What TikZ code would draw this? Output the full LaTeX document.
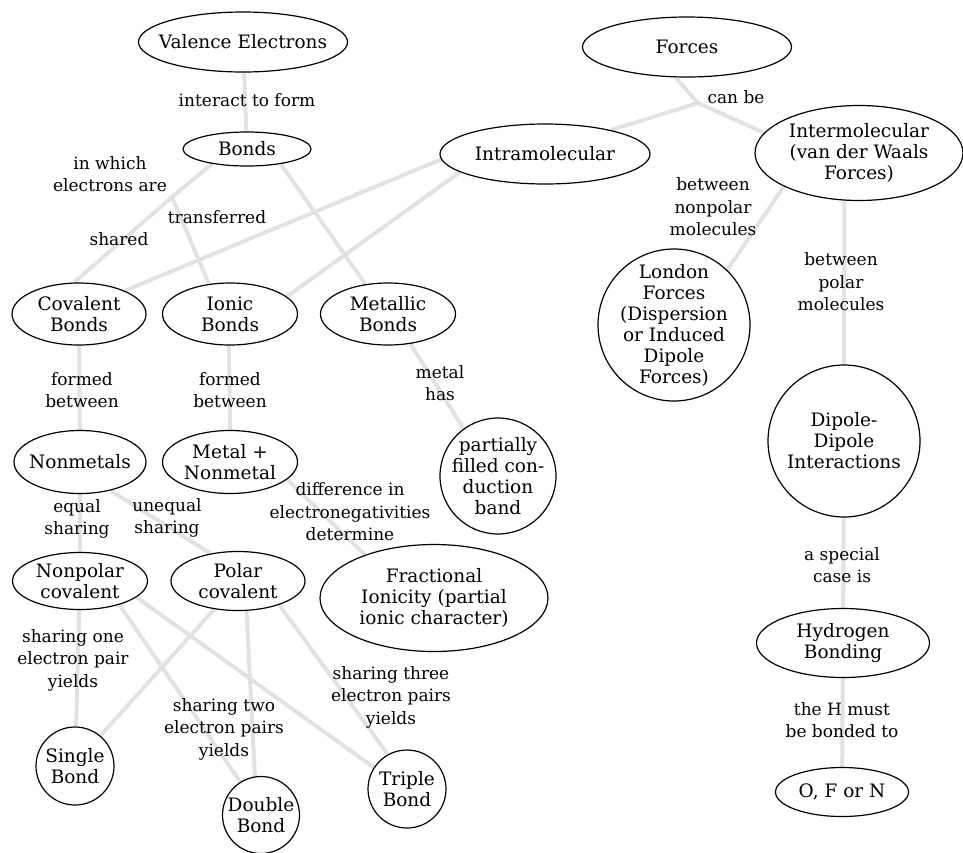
\documentclass[tikz,border=0pt]{standalone}
\usepackage{fontspec}
\setmainfont{DejaVu Serif}
\usetikzlibrary{shapes.geometric,backgrounds}
\definecolor{lineg}{RGB}{226,226,226}
\begin{document}
\begin{tikzpicture}[x=1pt,y=-1pt,
  every node/.style={align=center, inner sep=0pt},
  txt/.style={font=\fontsize{18.5}{21}\selectfont},
  lbl/.style={font=\fontsize{17}{22.5}\selectfont},
  E/.style n args={3}{ellipse, draw, fill=white, line width=1.2pt,
     minimum width=#1, minimum height=#2, label={[txt]center:{#3}}},
  C/.style n args={2}{circle, draw, fill=white, line width=1.2pt,
     minimum size=#1, label={[txt]center:{#2}}},
  conn/.style={draw=lineg, line width=4pt}]
\useasboundingbox (0,0) rectangle (963,852);

% concept nodes
\node[E={209}{60}{Valence Electrons}] (ve) at (243,42) {};
\node[E={128}{34}{Bonds}] (bonds) at (247,149) {};
\node[E={209}{60}{Forces}] (forces) at (687,47) {};
\node[E={210}{60}{Intramolecular}] (intra) at (545,154) {};
\node[E={208}{95}{Intermolecular\\(van der Waals\\Forces)}] (inter) at (859,153) {};
\node[C={152}{London\\Forces\\(Dispersion\\or Induced\\Dipole\\Forces)}] (london) at (674,325) {};
\node[C={152}{Dipole-\\Dipole\\Interactions}] (dipole) at (844,441) {};
\node[E={173}{69}{Hydrogen\\Bonding}] (hb) at (843,643) {};
\node[E={133}{49}{O, F or N}] (ofn) at (842,792) {};
\node[E={134}{62}{Covalent\\Bonds}] (cov) at (79,314) {};
\node[E={135}{62}{Ionic\\Bonds}] (ion) at (230,314) {};
\node[E={135}{62}{Metallic\\Bonds}] (met) at (388,314) {};
\node[E={132}{63}{Nonmetals}] (nonm) at (80,462) {};
\node[E={135}{63}{Metal +\\Nonmetal}] (mn) at (230,462) {};
\node[C={116}{partially\\filled con-\\duction\\band}] (pfb) at (498,476) {};
\node[E={135}{57}{Nonpolar\\covalent}] (np) at (80,581) {};
\node[E={134}{59}{Polar\\covalent}] (pol) at (238,581) {};
\node[E={228}{107}{Fractional\\Ionicity (partial\\ionic character)}] (fi) at (434,598) {};
\node[C={78}{Single\\Bond}] (sb) at (75,766) {};
\node[C={77}{Double\\Bond}] (db) at (261,815) {};
\node[C={78}{Triple\\Bond}] (tb) at (407,789) {};

% junctions
\coordinate (j1) at (172,197);
\coordinate (j2) at (698,103);

% connectors
\begin{scope}[on background layer]
\draw[conn] (ve) -- (bonds);
\draw[conn] (bonds.203) -- (j1) -- (cov.99);
\draw[conn] (j1) -- (ion.125);
\draw[conn] (bonds.336) -- (met.127);
\draw[conn] (intra.183) -- (cov.27);
\draw[conn] (intra.192) -- (ion.17);
\draw[conn] (forces.249) -- (j2) -- (intra.20);
\draw[conn] (j2) -- (inter.168);
\draw[conn] (inter.204) -- (london.46);
\draw[conn] (inter.253) -- (dipole.north);
\draw[conn] (dipole) -- (hb);
\draw[conn] (hb) -- (ofn);
\draw[conn] (cov) -- (nonm);
\draw[conn] (ion.268) -- (mn.272);
\draw[conn] (met.307) -- (pfb.126);
\draw[conn] (nonm) -- (np);
\draw[conn] (nonm.317) -- (pol.135);
\draw[conn] (mn.343) -- (fi.148);
\draw[conn] (np) -- (sb);
\draw[conn] (pol.230) -- (sb.50);
\draw[conn] (np.329) -- (db.122);
\draw[conn] (pol.286) -- (db.99);
\draw[conn] (np.344) -- (tb.147);
\draw[conn] (pol.330) -- (tb.119);
\end{scope}

% link labels
\node[lbl] (l1) at (247,100) {interact to form};
\node[lbl] (l2) at (110,174) {in which\\electrons are};
\node[lbl] (l3) at (217,217) {transferred};
\node[lbl] (l4) at (119,239) {shared};
\node[lbl] (l5) at (736,97) {can be};
\node[lbl] (l6) at (713,207) {between\\nonpolar\\molecules};
\node[lbl] (l7) at (841,282) {between\\polar\\molecules};
\node[lbl] (l8) at (82,390) {formed\\between};
\node[lbl] (l9) at (230,390) {formed\\between};
\node[lbl] (l10) at (440,383) {metal\\has};
\node[lbl] (l11) at (77,519) {equal\\sharing};
\node[lbl] (l12) at (167,518) {unequal\\sharing};
\node[lbl] (l13) at (350,512) {difference in\\electronegativities\\determine};
\node[lbl] (l14) at (842,565) {a special\\case is};
\node[lbl] (l15) at (73,660) {sharing one\\electron pair\\yields};
\node[lbl] (l16) at (224,729) {sharing two\\electron pairs\\yields};
\node[lbl] (l17) at (391,697) {sharing three\\electron pairs\\yields};
\node[lbl] (l18) at (842,720) {the H must\\be bonded to};
\end{tikzpicture}
\end{document}
